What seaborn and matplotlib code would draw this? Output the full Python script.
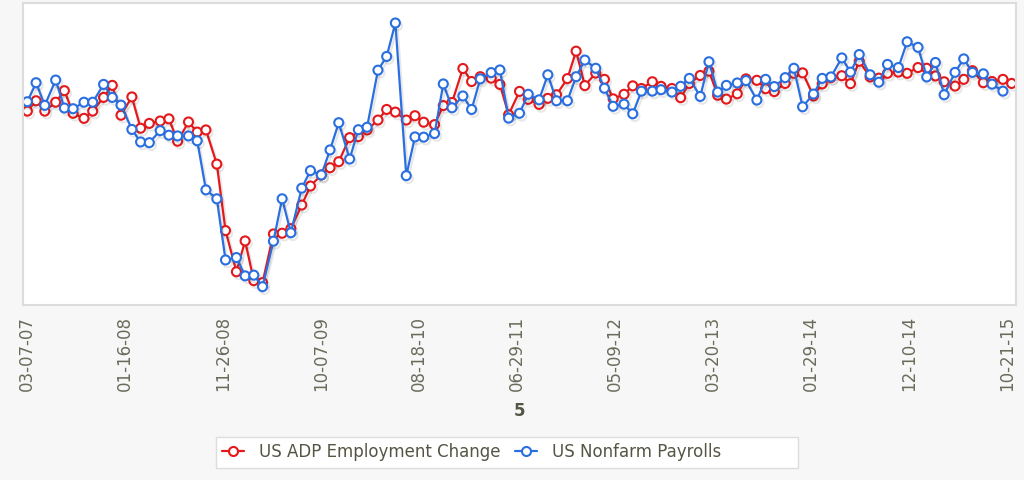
import numpy as np
import pandas as pd
import seaborn as sns
import matplotlib.pyplot as plt
import matplotlib.dates as mdates
import matplotlib.patheffects as pe
from matplotlib.patches import Rectangle
from matplotlib.lines import Line2D

# monthly release dates (first Wednesday), Mar 2007 .. Nov 2015
dates = pd.date_range("2007-03-01", "2015-11-30", freq="WOM-1WED")

# US ADP Employment Change (thousands)
adp = [66, 109, 66, 103, 151, 57, 36, 66, 123, 173,
       49, 125, -5, 15, 25, 34, -59, 21, -21, -12,
       -154, -430, -601, -473, -638, -646, -444, -441, -422, -324,
       -245, -199, -169, -144, -44, -40, -12, 29, 73, 62,
       29, 47, 20, 10, 89, 102, 243, 189, 209, 203,
       177, 51, 148, 115, 94, 119, 134, 201, 315, 172,
       224, 198, 117, 136, 171, 160, 188, 169, 160, 122,
       181, 214, 232, 132, 116, 138, 200, 194, 159, 147,
       181, 223, 225, 129, 179, 205, 213, 180, 273, 208,
       203, 223, 228, 223, 247, 244, 212, 188, 170, 198,
       234, 184, 189, 198, 181]

# US Nonfarm Payrolls (thousands), one release fewer
nfp = [105, 184, 90, 195, 79, 76, 103, 103, 177, 123,
       91, -10, -62, -65, -15, -34, -37, -37, -57, -261,
       -298, -552, -542, -618, -615, -663, -474, -298, -439, -254,
       -181, -199, -95, 18, -133, -11, -1, 236, 293, 432,
       -202, -41, -42, -27, 179, 80, 129, 73, 200, 226,
       237, 37, 57, 136, 113, 217, 109, 109, 209, 278,
       244, 161, 86, 95, 55, 149, 149, 155, 145, 169,
       202, 127, 271, 145, 173, 183, 193, 112, 198, 168,
       205, 244, 84, 137, 202, 208, 287, 228, 301, 217,
       186, 260, 247, 354, 331, 208, 268, 134, 227, 283,
       227, 221, 178, 149]

series = ["US ADP Employment Change", "US Nonfarm Payrolls"]
colors = ["#e3191c", "#2a6fe0"]
tick_dates = pd.date_range("2007-03-07", periods=11, freq="315D")

df_adp = pd.DataFrame({"date": dates, "value": adp})
df_nfp = pd.DataFrame({"date": dates[:len(nfp)], "value": nfp})

sns.set_theme(style="white")
plt.rcParams["font.family"] = ["DejaVu Sans"]

fig = plt.figure(figsize=(10.24, 4.8), dpi=100, facecolor="#f7f7f7")
ax = fig.add_axes([23 / 1024, 1 - 305 / 480, 993 / 1024, 302 / 480])
ax.set_facecolor("white")

shadow = [pe.SimpleLineShadow(offset=(1.5, -2), shadow_color="k", alpha=0.1), pe.Normal()]
for dfrm, color in zip([df_adp, df_nfp], colors):
    sns.lineplot(data=dfrm, x="date", y="value", ax=ax, color=color, lw=1.6,
                 marker="o", markersize=6.5, markerfacecolor="white",
                 markeredgecolor=color, markeredgewidth=1.5,
                 path_effects=shadow)

ax.set_xlim(dates[0] - pd.Timedelta(days=14), dates[-1] + pd.Timedelta(days=14))
ax.set_ylim(-739, 515)
ax.set_yticks([])
ax.set_ylabel("")
ax.set_xticks(tick_dates)
ax.xaxis.set_major_formatter(mdates.DateFormatter("%m-%d-%y"))
ax.tick_params(axis="x", length=0, pad=8, labelsize=12, labelcolor="#6b6b5c",
               labelrotation=90)
ax.set_xlabel("5", fontsize=12, fontweight="bold", color="#555544", labelpad=8)
for spine in ax.spines.values():
    spine.set_color("#dcdcdc")
    spine.set_linewidth(1.5)

# legend box
fig.patches.append(Rectangle((216 / 1024, 1 - 468 / 480), 582 / 1024, 31 / 480,
                             transform=fig.transFigure, facecolor="white",
                             edgecolor="#dddddd", lw=1, zorder=0))
handles = [Line2D([], [], color=c, lw=1.6, marker="o", markersize=6.5,
                  markerfacecolor="white", markeredgecolor=c, markeredgewidth=1.5)
           for c in colors]
fig.legend(handles, series, loc="center left", bbox_to_anchor=(207 / 1024, 1 - 452 / 480),
           ncol=2, frameon=False, fontsize=12, labelcolor="#555544",
           handlelength=1.3, handletextpad=0.9, columnspacing=0.9)

fig.savefig("out.png", dpi=100, facecolor=fig.get_facecolor())
